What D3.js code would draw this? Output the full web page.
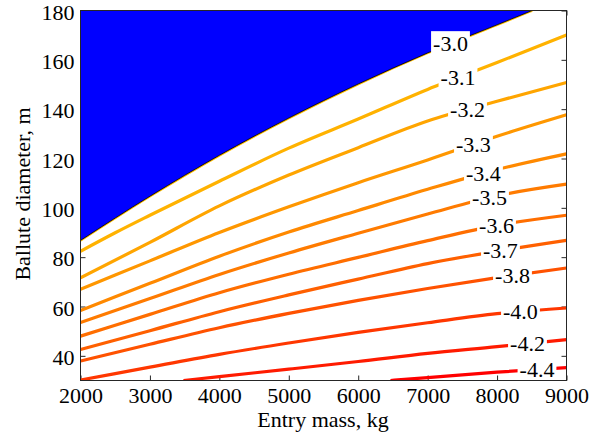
<!DOCTYPE html>
<html>
<head>
<meta charset="utf-8">
<script src="https://cdn.jsdelivr.net/npm/d3@7"></script>
<style>
  body { margin: 0; background: #fff; }
  svg { display: block; }
</style>
</head>
<body>
<svg id="chart" width="597" height="438"></svg>
<script>
// Axis ticks
const massTicks = [2000, 3000, 4000, 5000, 6000, 7000, 8000, 9000];
const diamTicks = [40, 60, 80, 100, 120, 140, 160, 180];

// Contour levels (log10 of the quantity), top to bottom
const levels = [-3.0, -3.1, -3.2, -3.3, -3.4, -3.5, -3.6, -3.7, -3.8, -4.0, -4.2, -4.4];

// Each contour as [entry mass (kg), ballute diameter (m)] points
const lvl30 = [[2000, 86.8], [3000, 104.7], [4000, 121.3], [5000, 136.4], [6000, 150.2], [7000, 162.8], [8000, 174.2], [8506, 180]];
const lvl31 = [[2000, 82.4], [2500, 89.9], [3000, 97.0], [4000, 110.8], [5000, 124.2], [6000, 136.0], [7000, 148.0], [8000, 158.9], [9000, 170.1]];
const lvl32 = [[2000, 71.6], [3000, 86.0], [4000, 100.8], [5000, 113.3], [6000, 124.4], [7000, 135.2], [8000, 143.2], [9000, 150.8]];
const lvl33 = [[2000, 67.0], [3000, 78.5], [4000, 90.0], [5000, 100.4], [6000, 110.2], [7000, 119.4], [8000, 129.0], [9000, 137.7]];
const lvl34 = [[2000, 58.4], [3000, 69.4], [4000, 80.4], [5000, 90.2], [6000, 98.9], [7000, 107.5], [8000, 115.5], [9000, 121.9]];
const lvl35 = [[2000, 53.5], [3000, 63.2], [4000, 73.0], [5000, 81.7], [6000, 89.7], [7000, 97.5], [8000, 104.9], [9000, 109.6]];
const lvl36 = [[2000, 48.0], [3000, 56.8], [4000, 65.6], [5000, 73.1], [6000, 79.9], [7000, 86.7], [8000, 92.9], [9000, 97.0]];
const lvl37 = [[2000, 42.6], [3000, 50.2], [4000, 57.9], [5000, 64.7], [6000, 71.1], [7000, 77.4], [8000, 82.4], [9000, 86.8]];
const lvl38 = [[2000, 37.9], [3000, 44.7], [4000, 51.4], [5000, 57.2], [6000, 62.5], [7000, 67.3], [8000, 71.7], [9000, 75.6]];
const lvl40 = [[2000, 30.2], [3000, 35.4], [4000, 40.6], [5000, 45.2], [6000, 49.5], [7000, 53.4], [8000, 57.1], [9000, 59.4]];
const lvl42 = [[3483, 30.0], [4000, 31.6], [5000, 34.6], [6000, 37.7], [7000, 41.0], [8000, 43.7], [9000, 46.6]];
const lvl44 = [[6465, 30.0], [7000, 31.2], [8000, 33.4], [9000, 35.2]];

// Entry mass at which each contour carries its label
const labelMass = [7329, 7437, 7574, 7660, 7804, 7891, 7992, 8049, 8222, 8337, 8438, 8575];

const contours = [lvl30, lvl31, lvl32, lvl33, lvl34, lvl35, lvl36, lvl37, lvl38, lvl40, lvl42, lvl44]
  .map((pts, i) => ({ level: levels[i], pts, labelAt: labelMass[i] }));

const SERIF = "'Liberation Serif', 'Times New Roman', serif";
const svg = d3.select("#chart").attr("font-family", SERIF);
const x = d3.scaleLinear().domain([2000, 9000]).range([80.5, 566.5]);
const y = d3.scaleLinear().domain([30, 180]).range([380.5, 10.5]);
const color = d3.scaleLinear().domain([-4.4, -2.54]).range(["#ff0000", "#ffff00"]);
const FONT = "22px";

// Axes with inward ticks on all four sides
const gB = svg.append("g").attr("transform", `translate(0,${y(30)})`)
  .call(d3.axisBottom(x).tickValues(massTicks).tickFormat(d3.format("d")).tickSizeInner(-5).tickSizeOuter(0).tickPadding(7));
const gL = svg.append("g").attr("transform", `translate(${x(2000)},0)`)
  .call(d3.axisLeft(y).tickValues(diamTicks).tickFormat(d3.format("d")).tickSizeInner(-5).tickSizeOuter(0).tickPadding(6));
const gT = svg.append("g").attr("transform", `translate(0,${y(180)})`)
  .call(d3.axisTop(x).tickValues(massTicks).tickFormat("").tickSizeInner(-5).tickSizeOuter(0));
const gR = svg.append("g").attr("transform", `translate(${x(9000)},0)`)
  .call(d3.axisRight(y).tickValues(diamTicks).tickFormat("").tickSizeInner(-5).tickSizeOuter(0));
[gB, gL, gT, gR].forEach(g => {
  g.attr("font-family", SERIF).attr("font-size", FONT);
  g.select(".domain").remove();
  g.selectAll(".tick line").attr("stroke", "#262626").attr("stroke-width", 1);
  g.selectAll(".tick text").attr("fill", "#000");
});
gL.selectAll(".tick text").attr("dy", "0.39em");

// Plot area clip
svg.append("clipPath").attr("id", "plotClip").append("rect")
  .attr("x", x(2000)).attr("y", y(180)).attr("width", x(9000) - x(2000)).attr("height", y(30) - y(180));
const plot = svg.append("g").attr("clip-path", "url(#plotClip)");

const line = d3.line().x(d => x(d[0])).y(d => y(d[1])).curve(d3.curveMonotoneX);

// Contour lines below the -3.0 boundary
contours.slice(1).forEach(c => {
  plot.append("path").attr("d", line(c.pts))
    .attr("fill", "none").attr("stroke", color(c.level)).attr("stroke-width", 3.2);
});

// -3.0 contour and the region above it
plot.append("path").attr("d", line(lvl30))
  .attr("fill", "none").attr("stroke", color(-3.0)).attr("stroke-width", 2.6);
const edge = line(lvl30);
plot.append("path").attr("d", edge + `L${x(2000)},${y(180)}Z`)
  .attr("fill", "#0000ff").attr("stroke", "#000").attr("stroke-width", 0.8);

// Contour labels on white boxes
function diamAt(pts, m) {
  for (let i = 0; i < pts.length - 1; i++) {
    const [m0, d0] = pts[i], [m1, d1] = pts[i + 1];
    if (m >= m0 && m <= m1) return d0 + (d1 - d0) * (m - m0) / (m1 - m0);
  }
  return pts[pts.length - 1][1];
}
const labels = svg.append("g").attr("font-family", SERIF);
contours.forEach(c => {
  const lx = x(c.labelAt), ly = y(diamAt(c.pts, c.labelAt));
  const g = labels.append("g");
  const t = g.append("text").attr("x", lx).attr("y", ly).attr("dy", "0.34em")
    .attr("text-anchor", "middle").attr("font-size", "22px").attr("fill", "#000")
    .text(c.level.toFixed(1));
  const b = t.node().getBBox();
  g.insert("rect", "text").attr("x", b.x - 2).attr("y", b.y).attr("width", b.width + 4).attr("height", b.height)
    .attr("fill", "#fff");
});

// Frame
svg.append("rect").attr("x", x(2000)).attr("y", y(180))
  .attr("width", x(9000) - x(2000)).attr("height", y(30) - y(180))
  .attr("fill", "none").attr("stroke", "#262626").attr("stroke-width", 1);

// Axis titles
svg.append("text").attr("x", 323).attr("y", 427).attr("text-anchor", "middle")
  .attr("font-size", "22px").attr("fill", "#000").text("Entry mass, kg");
svg.append("text").attr("transform", "translate(30,194) rotate(-90)").attr("text-anchor", "middle")
  .attr("font-size", "22px").attr("fill", "#000").text("Ballute diameter, m");
</script>
</body>
</html>
